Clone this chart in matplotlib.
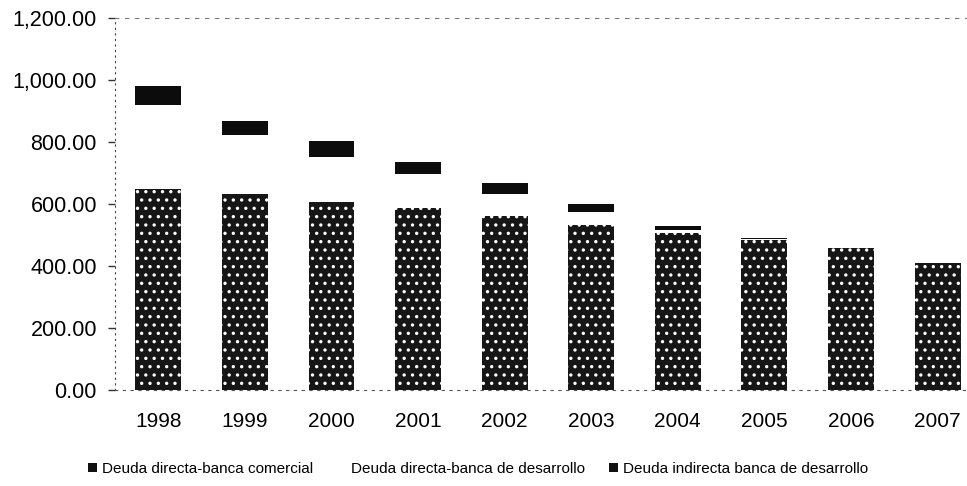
import matplotlib
matplotlib.use("Agg")
import matplotlib.pyplot as plt
from matplotlib.ticker import FuncFormatter
from matplotlib.patches import Patch
import numpy as np

years = ["1998", "1999", "2000", "2001", "2002", "2003", "2004", "2005", "2006", "2007"]
directa_comercial = [649, 631, 608, 587, 561, 532, 506, 483, 458, 410]
directa_desarrollo = [271, 192, 145, 110, 71, 42, 10, 3, 0, 0]
indirecta_desarrollo = [61, 46, 50, 39, 36, 26, 14, 4, 0, 0]
series_names = ["Deuda directa-banca comercial",
                "Deuda directa-banca de desarrollo",
                "Deuda indirecta banca de desarrollo"]
y_ticks = [0, 200, 400, 600, 800, 1000, 1200]

plt.rcParams['font.family'] = ['Liberation Sans', 'DejaVu Sans']
plt.rcParams['hatch.linewidth'] = 1.2

fig = plt.figure(figsize=(9.67, 4.86), dpi=100)
ax = fig.add_axes([115/967, 96/486, (967-115)/967, 372/486])

x = np.arange(len(years))
w = 0.53
b1 = np.array(directa_comercial, dtype=float)
b2 = b1 + np.array(directa_desarrollo, dtype=float)

ax.bar(x, directa_comercial, width=w, color="#161616", edgecolor="white",
       hatch="..", linewidth=0, label=series_names[0])
ax.bar(x, directa_desarrollo, width=w, bottom=b1, color="white",
       linewidth=0, label=series_names[1])
ax.bar(x, indirecta_desarrollo, width=w, bottom=b2, color="#0c0c0c",
       linewidth=0, label=series_names[2])

ax.set_xlim(-0.5, 9.34)
ax.set_ylim(0, 1200)
ax.set_yticks(y_ticks)
ax.yaxis.set_major_formatter(FuncFormatter(lambda v, p: f"{v:,.2f}"))
ax.set_xticks(x)
ax.set_xticklabels(years)
ax.tick_params(axis='y', labelsize=15.5, length=5, width=1, color="#333333", pad=8)
ax.tick_params(axis='x', labelsize=15, length=0, pad=16)

ax.spines["right"].set_visible(False)
ax.spines["left"].set_linestyle((0, (1, 4)))
ax.spines["left"].set_color("#444444")
ax.spines["bottom"].set_linestyle((0, (2, 5)))
ax.spines["bottom"].set_color("#555555")
ax.spines["top"].set_linestyle((0, (3, 6)))
ax.spines["top"].set_color("#777777")

handles = [Patch(facecolor="#111111", linewidth=0),
           Patch(facecolor="white", linewidth=0),
           Patch(facecolor="#111111", linewidth=0)]
leg = fig.legend(handles, series_names, loc="center", bbox_to_anchor=(478/967, 1 - 469/486),
                 ncol=3, frameon=False, fontsize=11, handlelength=0.6,
                 handleheight=0.6, handletextpad=0.3, columnspacing=1.6)

fig.savefig("out.png", dpi=100)
